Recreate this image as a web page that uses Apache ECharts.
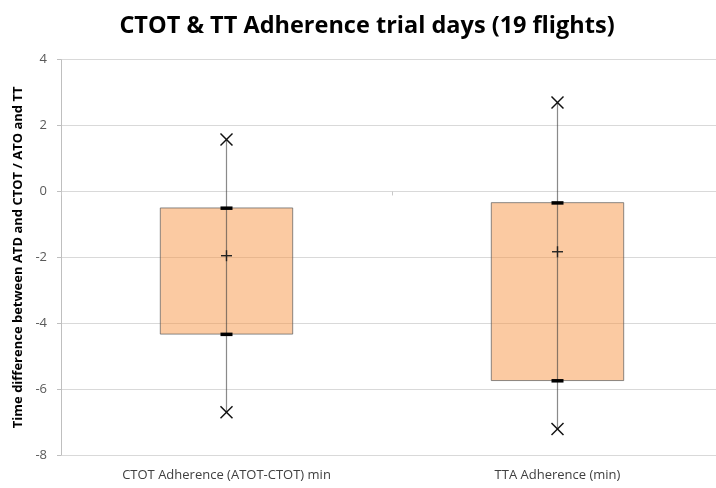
<!DOCTYPE html>
<html>
<head>
<meta charset="utf-8">
<script src="https://cdn.jsdelivr.net/npm/echarts@6/dist/echarts.min.js"></script>
<style>
  html, body { margin: 0; padding: 0; background: #ffffff; }
  #chart { width: 716px; height: 488px; }
</style>
</head>
<body>
<div id="chart"></div>
<script>
// Adherence categories and their summary statistics (minutes)
const categories = ['CTOT Adherence (ATOT-CTOT) min', 'TTA Adherence (min)'];
const minValues = [-6.70, -7.21];
const lowerQuartile = [-4.33, -5.74];
const meanValues = [-1.95, -1.83];
const upperQuartile = [-0.50, -0.34];
const maxValues = [1.58, 2.70];
const yTicks = [-8, -6, -4, -2, 0, 2, 4];

const boxData = categories.map((c, i) => [i, minValues[i], lowerQuartile[i], meanValues[i], upperQuartile[i], maxValues[i]]);

const chart = echarts.init(document.getElementById('chart'));

function renderBox(params, api) {
  const idx = api.value(0);
  const pMin = api.coord([idx, api.value(1)]);
  const pQ1 = api.coord([idx, api.value(2)]);
  const pMean = api.coord([idx, api.value(3)]);
  const pQ3 = api.coord([idx, api.value(4)]);
  const pMax = api.coord([idx, api.value(5)]);
  const bandW = api.size([1, 0])[0];
  const boxW = bandW * 0.4;
  const x = pQ1[0];
  const c = 6; // half size of the x markers
  const p = 5.5; // half size of the mean marker
  return {
    type: 'group',
    children: [
      {
        type: 'rect',
        shape: { x: x - boxW / 2, y: pQ3[1], width: boxW, height: pQ1[1] - pQ3[1] },
        style: { fill: 'rgba(247,150,70,0.5)', stroke: 'rgba(90,90,90,0.7)', lineWidth: 1 }
      },
      {
        type: 'line',
        shape: { x1: x, y1: pMax[1], x2: x, y2: pMin[1] },
        style: { stroke: 'rgba(60,60,60,0.6)', lineWidth: 1.2 }
      },
      {
        type: 'rect',
        shape: { x: x - 6, y: pQ3[1] - 1.5, width: 12, height: 3.5 },
        style: { fill: '#000000' }
      },
      {
        type: 'rect',
        shape: { x: x - 6, y: pQ1[1] - 1.5, width: 12, height: 3.5 },
        style: { fill: '#000000' }
      },
      {
        type: 'polyline',
        shape: { points: [[x - p, pMean[1]], [x + p, pMean[1]]] },
        style: { stroke: '#222222', lineWidth: 1.4 }
      },
      {
        type: 'polyline',
        shape: { points: [[x, pMean[1] - p], [x, pMean[1] + p]] },
        style: { stroke: '#222222', lineWidth: 1.4 }
      },
      {
        type: 'line',
        shape: { x1: x - c, y1: pMax[1] - c, x2: x + c, y2: pMax[1] + c },
        style: { stroke: '#111111', lineWidth: 1.5 }
      },
      {
        type: 'line',
        shape: { x1: x - c, y1: pMax[1] + c, x2: x + c, y2: pMax[1] - c },
        style: { stroke: '#111111', lineWidth: 1.5 }
      },
      {
        type: 'line',
        shape: { x1: x - c, y1: pMin[1] - c, x2: x + c, y2: pMin[1] + c },
        style: { stroke: '#111111', lineWidth: 1.5 }
      },
      {
        type: 'line',
        shape: { x1: x - c, y1: pMin[1] + c, x2: x + c, y2: pMin[1] - c },
        style: { stroke: '#111111', lineWidth: 1.5 }
      }
    ]
  };
}

chart.setOption({
  animation: false,
  backgroundColor: '#ffffff',
  title: {
    text: 'CTOT & TT Adherence trial days (19 flights)',
    left: 362,
    top: 9,
    textAlign: 'center',
    textStyle: { fontFamily: 'Open Sans', fontWeight: 'bold', fontSize: 23.5, color: '#000000' }
  },
  grid: { left: 61, width: 662, top: 59.7, bottom: 33, outerBoundsMode: 'none', containLabel: false },
  xAxis: [
    {
      type: 'category',
      data: categories,
      boundaryGap: true,
      axisLine: { show: false, onZero: true },
      axisTick: { show: true, length: 4, lineStyle: { color: '#c8c8c8' } },
      axisLabel: { show: false },
      splitLine: { show: false }
    },
    {
      type: 'category',
      data: categories,
      position: 'bottom',
      boundaryGap: true,
      axisLine: { show: false },
      axisTick: { show: false },
      axisLabel: {
        show: true,
        margin: 14,
        fontFamily: 'Liberation Sans Narrow, Open Sans',
        fontSize: 13,
        color: '#404040'
      }
    }
  ],
  yAxis: {
    type: 'value',
    min: yTicks[0],
    max: yTicks[yTicks.length - 1],
    interval: 2,
    name: 'Time difference between ATD and CTOT / ATO and TT',
    nameLocation: 'middle',
    nameGap: 35,
    nameTextStyle: { fontFamily: 'Open Sans', fontWeight: 'bold', fontSize: 13, color: '#000000' },
    axisLine: { show: true, lineStyle: { color: '#bfbfbf' } },
    axisTick: { show: true, length: 4, inside: false, lineStyle: { color: '#bfbfbf' } },
    axisLabel: { fontFamily: 'Open Sans', fontSize: 13, color: '#595959', margin: 14 },
    splitLine: { show: true, lineStyle: { color: '#d9d9d9', width: 1 } }
  },
  series: [
    {
      type: 'custom',
      xAxisIndex: 0,
      renderItem: renderBox,
      encode: { x: 0, y: [1, 2, 3, 4, 5] },
      data: boxData,
      z: 3
    }
  ]
});
</script>
</body>
</html>
